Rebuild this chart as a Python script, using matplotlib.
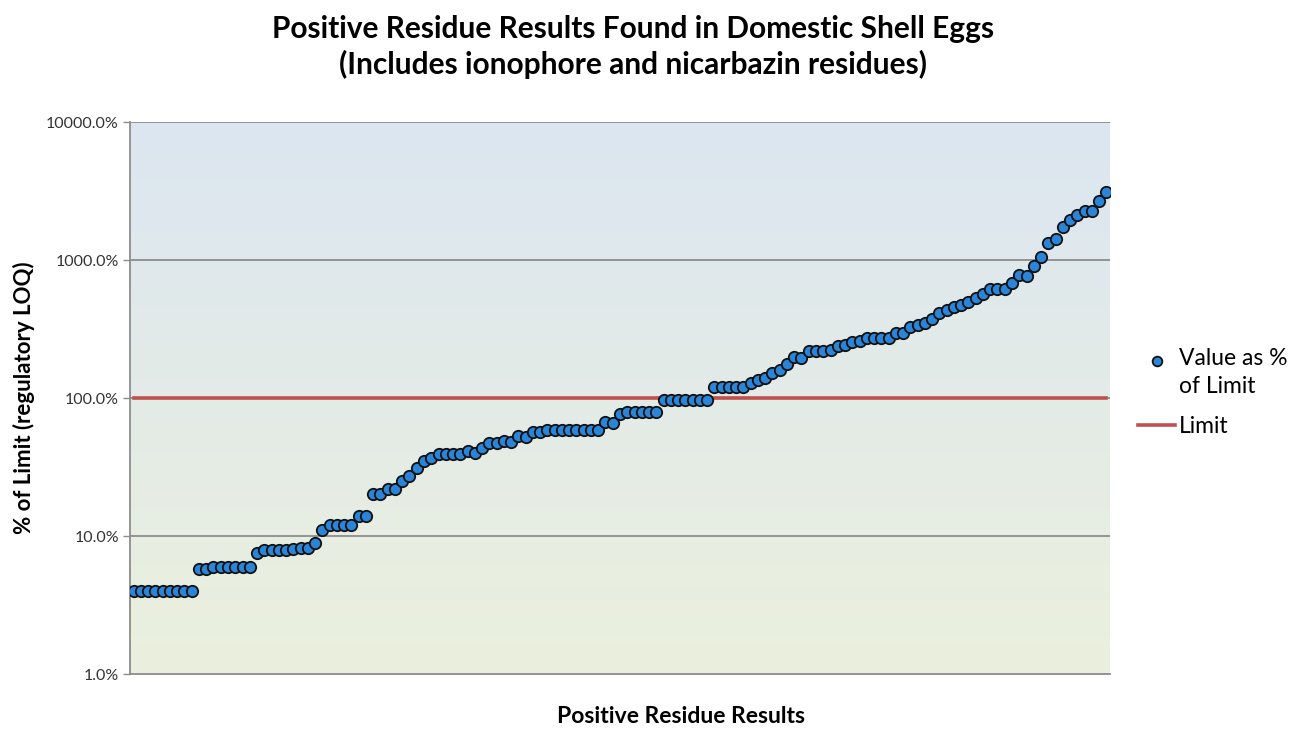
import numpy as np
import matplotlib.pyplot as plt
from matplotlib.colors import LinearSegmentedColormap
from matplotlib.ticker import FixedLocator, FuncFormatter, NullLocator
from matplotlib.legend_handler import HandlerLine2D

# values, % of regulatory limit, sorted ascending
group_low = [4.0] * 9
group_6 = [5.8, 5.8] + [6.0] * 6
group_8 = [7.5, 7.9, 7.9, 7.9, 7.9, 8.1, 8.2, 8.2, 8.9]
group_mid = [11, 12, 12, 12, 12, 14, 14, 20, 20, 22, 22, 25, 27, 31, 35, 37,
             39, 39, 39, 39, 41, 40, 43.5, 47, 47, 49, 48, 53, 52, 57, 57]
group_60 = [59] * 8 + [67, 66, 77] + [79] * 5 + [97] * 7
group_high = [120] * 5 + [128, 135, 140, 152, 160, 176, 198, 195, 219, 219, 219,
              223, 238, 242, 255, 259, 272, 272, 272, 272, 295, 295]
group_top = [327, 338, 350, 373, 413, 434, 456, 472, 497, 531, 567, 617, 612, 612,
             681, 778, 770, 905, 1052, 1328, 1420, 1733, 1950, 2120, 2270, 2270,
             2680, 3110]
values = group_low + group_6 + group_8 + group_mid + group_60 + group_high + group_top
limit = 100.0
ytick_vals = [1, 10, 100, 1000, 10000]

n = len(values)
x = np.arange(n)


class TopMarkerHandler(HandlerLine2D):
    # put the legend marker level with the first line of a two-line label
    def create_artists(self, legend, orig_handle, xdescent, ydescent, width, height, fontsize, trans):
        artists = super().create_artists(legend, orig_handle, xdescent, ydescent,
                                         width, height, fontsize, trans)
        for a in artists:
            a.set_ydata(np.asarray(a.get_ydata()) + fontsize * 0.55)
        return artists


plt.rcParams['font.family'] = ['Lato', 'DejaVu Sans']

fig = plt.figure(figsize=(12.99, 7.29), dpi=100)
ax = fig.add_axes([130 / 1299, 55 / 729, 980 / 1299, 552 / 729])

# gradient plot background
grad = LinearSegmentedColormap.from_list('bg', ['#dce6f1', '#ebf0dd'])
ax.imshow(np.linspace(0, 1, 256).reshape(-1, 1), cmap=grad, aspect='auto',
          extent=[0, 1, 0, 1], transform=ax.transAxes, zorder=0)

ax.set_yscale('log')
ax.set_ylim(1, 10000)
ax.set_xlim(-0.5, n - 0.5)

for v in ytick_vals[1:]:
    ax.axhline(v, color='#8c8c8c', lw=1.3, zorder=1)

limit_line, = ax.plot(x, [limit] * n, color='#c0504d', lw=2.6, zorder=2, label='Limit')
pts, = ax.plot(x, values, ls='none', marker='o', ms=8.2, mfc='#2a85d8', mec='#111111',
               mew=1.3, zorder=3, label='Value as %\nof Limit')

ax.yaxis.set_major_locator(FixedLocator(ytick_vals))
ax.yaxis.set_minor_locator(NullLocator())
ax.yaxis.set_major_formatter(FuncFormatter(lambda v, p: f"{v:.1f}%"))
ax.xaxis.set_major_locator(NullLocator())
ax.tick_params(axis='y', direction='out', length=5, width=1, color='#8c8c8c',
               labelsize=11.5, labelcolor='#333333', pad=3)

for s in ['top', 'right']:
    ax.spines[s].set_visible(False)
for s in ['left', 'bottom']:
    ax.spines[s].set_color('#8c8c8c')
    ax.spines[s].set_linewidth(1.3)

ax.set_ylabel('% of Limit (regulatory LOQ)', fontsize=16, fontweight='bold', labelpad=8)
ax.set_xlabel('Positive Residue Results', fontsize=16.5, fontweight='bold', labelpad=20)
ax.xaxis.set_label_coords((681 - 130) / 980, -0.058)

fig.text(633 / 1299, 1 - 47 / 729,
         'Positive Residue Results Found in Domestic Shell Eggs\n(Includes ionophore and nicarbazin residues)',
         ha='center', va='center', fontsize=21.5, fontweight='bold', linespacing=1.3)

leg = ax.legend([pts, limit_line], ['Value as %\nof Limit', 'Limit'], loc='center left',
                bbox_to_anchor=(1.008, 0.51), frameon=False, fontsize=16.5,
                handlelength=1.6, handletextpad=0.15, labelspacing=0.8, markerscale=0.85,
                handler_map={pts: TopMarkerHandler()})
for t in leg.get_texts():
    t.set_linespacing(1.4)

fig.savefig('out.png', dpi=100)
